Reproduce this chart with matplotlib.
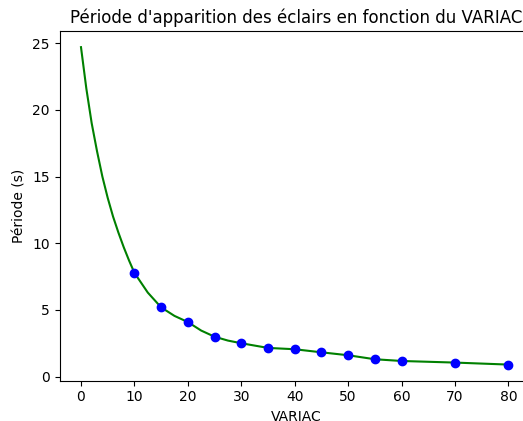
import matplotlib
matplotlib.use("Agg")
import matplotlib.pyplot as plt

# Measured data points
variac = [10, 15, 20, 25, 30, 35, 40, 45, 50, 55, 60, 70, 80]
periode = [7.78, 5.19, 4.09, 2.99, 2.50, 2.15, 2.05, 1.82, 1.60, 1.30, 1.17, 1.05, 0.90]

# Fitted curve
curve_x = [0, 1, 2, 3, 4, 5, 6, 7, 8, 9, 10, 12.5, 15, 17.5, 20, 22.5, 25, 27.5,
           30, 35, 40, 45, 50, 55, 60, 70, 80]
curve_y = [24.7, 21.6, 19.0, 16.9, 15.0, 13.4, 12.0, 10.8, 9.7, 8.7, 7.78, 6.3,
           5.19, 4.55, 4.09, 3.45, 2.99, 2.70, 2.50, 2.15, 2.05, 1.82, 1.60, 1.30,
           1.17, 1.05, 0.90]

fig = plt.figure(figsize=(5.23, 4.21), dpi=100)
ax = fig.add_axes([0.114, 0.096, 0.904, 0.830])
ax.plot(curve_x, curve_y, color='g', linewidth=1.5)
ax.plot(variac, periode, 'o', color='b', markersize=6)
ax.set_xlim(-4, 84.5)
ax.set_ylim(-0.3, 25.9)
ax.set_xticks(range(0, 81, 10))
ax.set_yticks(range(0, 26, 5))
ax.set_xlabel("VARIAC")
ax.set_ylabel("Période (s)")
ax.set_title("Période d'apparition des éclairs en fonction du VARIAC")
fig.savefig("out.png", dpi=100)
